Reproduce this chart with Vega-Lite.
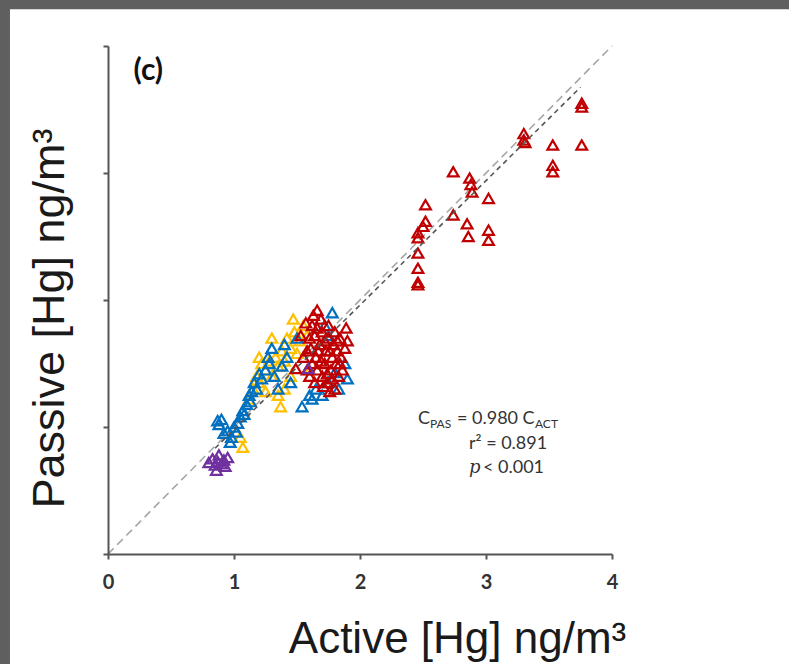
{
  "$schema": "https://vega.github.io/schema/vega-lite/v6.json",
  "width": 504,
  "height": 508,
  "autosize": {"type": "none"},
  "padding": {"left": 108, "top": 46, "right": 177, "bottom": 110},
  "background": "#5f5f5f",
  "config": {"view": {"stroke": null}},
  "datasets": {
    "points": [
      {"a": 1.07, "p": 0.84, "g": "yellow"}, {"a": 1.05, "p": 0.92, "g": "yellow"}, {"a": 1.12, "p": 1.22, "g": "yellow"},
      {"a": 1.15, "p": 1.30, "g": "yellow"}, {"a": 1.18, "p": 1.40, "g": "yellow"}, {"a": 1.20, "p": 1.35, "g": "yellow"},
      {"a": 1.22, "p": 1.50, "g": "yellow"}, {"a": 1.25, "p": 1.45, "g": "yellow"}, {"a": 1.28, "p": 1.52, "g": "yellow"},
      {"a": 1.30, "p": 1.40, "g": "yellow"}, {"a": 1.33, "p": 1.55, "g": "yellow"}, {"a": 1.35, "p": 1.48, "g": "yellow"},
      {"a": 1.38, "p": 1.60, "g": "yellow"}, {"a": 1.40, "p": 1.52, "g": "yellow"}, {"a": 1.42, "p": 1.70, "g": "yellow"},
      {"a": 1.45, "p": 1.62, "g": "yellow"}, {"a": 1.48, "p": 1.75, "g": "yellow"}, {"a": 1.50, "p": 1.58, "g": "yellow"},
      {"a": 1.52, "p": 1.68, "g": "yellow"}, {"a": 1.55, "p": 1.80, "g": "yellow"}, {"a": 1.58, "p": 1.72, "g": "yellow"},
      {"a": 1.35, "p": 1.25, "g": "yellow"}, {"a": 1.40, "p": 1.30, "g": "yellow"}, {"a": 1.25, "p": 1.28, "g": "yellow"},
      {"a": 1.37, "p": 1.16, "g": "yellow"}, {"a": 1.60, "p": 1.45, "g": "yellow"}, {"a": 1.45, "p": 1.40, "g": "yellow"},
      {"a": 1.30, "p": 1.70, "g": "yellow"}, {"a": 1.20, "p": 1.55, "g": "yellow"}, {"a": 1.47, "p": 1.85, "g": "yellow"},
      {"a": 0.87, "p": 1.05, "g": "blue"}, {"a": 0.88, "p": 1.02, "g": "blue"}, {"a": 0.90, "p": 1.06, "g": "blue"},
      {"a": 0.92, "p": 0.95, "g": "blue"}, {"a": 0.95, "p": 0.97, "g": "blue"}, {"a": 0.98, "p": 0.92, "g": "blue"},
      {"a": 1.00, "p": 1.00, "g": "blue"}, {"a": 1.03, "p": 1.03, "g": "blue"}, {"a": 1.05, "p": 1.08, "g": "blue"},
      {"a": 1.07, "p": 1.13, "g": "blue"}, {"a": 1.10, "p": 1.18, "g": "blue"}, {"a": 1.12, "p": 1.25, "g": "blue"},
      {"a": 1.14, "p": 1.28, "g": "blue"}, {"a": 1.16, "p": 1.35, "g": "blue"}, {"a": 1.18, "p": 1.30, "g": "blue"},
      {"a": 1.20, "p": 1.42, "g": "blue"}, {"a": 1.22, "p": 1.38, "g": "blue"}, {"a": 1.25, "p": 1.45, "g": "blue"},
      {"a": 1.27, "p": 1.55, "g": "blue"}, {"a": 1.28, "p": 1.50, "g": "blue"}, {"a": 1.30, "p": 1.62, "g": "blue"},
      {"a": 1.32, "p": 1.40, "g": "blue"}, {"a": 1.35, "p": 1.30, "g": "blue"}, {"a": 1.38, "p": 1.48, "g": "blue"},
      {"a": 1.42, "p": 1.55, "g": "blue"}, {"a": 1.45, "p": 1.35, "g": "blue"}, {"a": 1.54, "p": 1.16, "g": "blue"},
      {"a": 1.60, "p": 1.25, "g": "blue"}, {"a": 1.65, "p": 1.30, "g": "blue"}, {"a": 1.70, "p": 1.25, "g": "blue"},
      {"a": 1.75, "p": 1.35, "g": "blue"}, {"a": 1.80, "p": 1.43, "g": "blue"}, {"a": 1.83, "p": 1.30, "g": "blue"},
      {"a": 1.78, "p": 1.90, "g": "blue"}, {"a": 1.75, "p": 1.72, "g": "blue"}, {"a": 1.72, "p": 1.80, "g": "blue"},
      {"a": 1.40, "p": 1.65, "g": "blue"}, {"a": 1.50, "p": 1.70, "g": "blue"}, {"a": 1.13, "p": 1.20, "g": "blue"},
      {"a": 1.08, "p": 1.10, "g": "blue"}, {"a": 0.97, "p": 0.88, "g": "blue"}, {"a": 1.02, "p": 0.96, "g": "blue"},
      {"a": 1.62, "p": 1.22, "g": "blue"}, {"a": 1.90, "p": 1.38, "g": "blue"}, {"a": 1.88, "p": 1.50, "g": "blue"},
      {"a": 1.55, "p": 1.55, "g": "red"}, {"a": 1.58, "p": 1.60, "g": "red"}, {"a": 1.60, "p": 1.70, "g": "red"},
      {"a": 1.62, "p": 1.80, "g": "red"}, {"a": 1.63, "p": 1.88, "g": "red"}, {"a": 1.65, "p": 1.55, "g": "red"},
      {"a": 1.66, "p": 1.45, "g": "red"}, {"a": 1.68, "p": 1.65, "g": "red"}, {"a": 1.70, "p": 1.75, "g": "red"},
      {"a": 1.70, "p": 1.40, "g": "red"}, {"a": 1.72, "p": 1.50, "g": "red"}, {"a": 1.73, "p": 1.60, "g": "red"},
      {"a": 1.74, "p": 1.35, "g": "red"}, {"a": 1.75, "p": 1.70, "g": "red"}, {"a": 1.76, "p": 1.28, "g": "red"},
      {"a": 1.77, "p": 1.45, "g": "red"}, {"a": 1.78, "p": 1.55, "g": "red"}, {"a": 1.79, "p": 1.65, "g": "red"},
      {"a": 1.80, "p": 1.75, "g": "red"}, {"a": 1.81, "p": 1.50, "g": "red"}, {"a": 1.82, "p": 1.60, "g": "red"},
      {"a": 1.83, "p": 1.40, "g": "red"}, {"a": 1.84, "p": 1.70, "g": "red"}, {"a": 1.85, "p": 1.55, "g": "red"},
      {"a": 1.86, "p": 1.45, "g": "red"}, {"a": 1.88, "p": 1.62, "g": "red"}, {"a": 1.60, "p": 1.40, "g": "red"},
      {"a": 1.62, "p": 1.50, "g": "red"}, {"a": 1.57, "p": 1.82, "g": "red"}, {"a": 1.53, "p": 1.72, "g": "red"},
      {"a": 1.66, "p": 1.92, "g": "red"}, {"a": 1.69, "p": 1.85, "g": "red"}, {"a": 1.71, "p": 1.32, "g": "red"},
      {"a": 1.64, "p": 1.35, "g": "red"}, {"a": 1.78, "p": 1.38, "g": "red"}, {"a": 1.80, "p": 1.30, "g": "red"},
      {"a": 1.67, "p": 1.60, "g": "red"}, {"a": 1.75, "p": 1.80, "g": "red"}, {"a": 1.72, "p": 1.68, "g": "red"},
      {"a": 1.84, "p": 1.50, "g": "red"}, {"a": 1.61, "p": 1.62, "g": "red"}, {"a": 1.58, "p": 1.45, "g": "red"},
      {"a": 1.90, "p": 1.68, "g": "red"}, {"a": 1.89, "p": 1.78, "g": "red"}, {"a": 1.49, "p": 1.46, "g": "red"},
      {"a": 1.64, "p": 1.72, "g": "red"}, {"a": 1.76, "p": 1.60, "g": "red"}, {"a": 1.69, "p": 1.52, "g": "red"},
      {"a": 1.82, "p": 1.68, "g": "red"}, {"a": 1.74, "p": 1.42, "g": "red"}, {"a": 1.66, "p": 1.78, "g": "red"},
      {"a": 3.76, "p": 3.55, "g": "red"}, {"a": 3.76, "p": 3.52, "g": "red"}, {"a": 3.76, "p": 3.22, "g": "red"},
      {"a": 3.53, "p": 3.22, "g": "red"}, {"a": 3.53, "p": 3.06, "g": "red"}, {"a": 3.53, "p": 3.01, "g": "red"},
      {"a": 3.30, "p": 3.31, "g": "red"}, {"a": 3.30, "p": 3.26, "g": "red"}, {"a": 3.31, "p": 3.24, "g": "red"},
      {"a": 2.74, "p": 3.01, "g": "red"}, {"a": 2.87, "p": 2.96, "g": "red"}, {"a": 2.88, "p": 2.91, "g": "red"},
      {"a": 2.89, "p": 2.85, "g": "red"}, {"a": 3.02, "p": 2.80, "g": "red"}, {"a": 2.74, "p": 2.67, "g": "red"},
      {"a": 2.85, "p": 2.60, "g": "red"}, {"a": 2.86, "p": 2.50, "g": "red"}, {"a": 3.02, "p": 2.55, "g": "red"},
      {"a": 3.02, "p": 2.47, "g": "red"}, {"a": 2.52, "p": 2.75, "g": "red"}, {"a": 2.52, "p": 2.62, "g": "red"},
      {"a": 2.50, "p": 2.58, "g": "red"}, {"a": 2.46, "p": 2.53, "g": "red"}, {"a": 2.46, "p": 2.49, "g": "red"},
      {"a": 2.46, "p": 2.37, "g": "red"}, {"a": 2.46, "p": 2.25, "g": "red"}, {"a": 2.46, "p": 2.14, "g": "red"},
      {"a": 2.46, "p": 2.12, "g": "red"},
      {"a": 0.80, "p": 0.72, "g": "purple"}, {"a": 0.83, "p": 0.75, "g": "purple"}, {"a": 0.85, "p": 0.70, "g": "purple"},
      {"a": 0.87, "p": 0.73, "g": "purple"}, {"a": 0.88, "p": 0.78, "g": "purple"}, {"a": 0.90, "p": 0.71, "g": "purple"},
      {"a": 0.92, "p": 0.74, "g": "purple"}, {"a": 0.93, "p": 0.69, "g": "purple"}, {"a": 0.86, "p": 0.66, "g": "purple"},
      {"a": 0.95, "p": 0.76, "g": "purple"}, {"a": 1.59, "p": 1.46, "g": "purple"}
    ],
    "lines": [
      {"series": "one", "a": 0, "p": 0}, {"series": "one", "a": 4, "p": 4},
      {"series": "fit", "a": 0.85, "p": 0.833}, {"series": "fit", "a": 3.75, "p": 3.675}
    ]
  },
  "layer": [
    {
      "data": {"values": [{}]},
      "mark": {"type": "rect", "fill": "white", "clip": false},
      "encoding": {
        "x": {"datum": -0.778, "type": "quantitative", "scale": {"domain": [0, 4], "nice": false, "zero": false}},
        "x2": {"datum": 5.41},
        "y": {"datum": -0.87, "type": "quantitative", "scale": {"domain": [0, 4], "nice": false, "zero": false}},
        "y2": {"datum": 4.29}
      }
    },
    {
      "data": {"name": "lines"},
      "transform": [{"filter": "datum.series === 'one'"}],
      "mark": {"type": "line", "color": "#a6a6a6", "strokeWidth": 1.6, "strokeDash": [8, 5]},
      "encoding": {
        "x": {"field": "a", "type": "quantitative"},
        "y": {"field": "p", "type": "quantitative"}
      }
    },
    {
      "data": {"name": "points"},
      "mark": {"type": "point", "shape": "triangle-up", "filled": false, "strokeWidth": 2.2, "size": 115, "opacity": 1},
      "encoding": {
        "x": {
          "field": "a", "type": "quantitative",
          "axis": {
            "title": "Active [Hg] ng/m³", "values": [0, 1, 2, 3, 4], "format": "d", "grid": false, "zindex": 1,
            "tickSize": 5, "tickWidth": 2, "tickColor": "#555", "domainColor": "#555", "domainWidth": 2,
            "labelFont": "Lato", "labelFontWeight": "bold", "labelFontSize": 20, "labelColor": "#333", "labelPadding": 13, "labelFlush": false,
            "titleFont": "Liberation Sans", "titleFontSize": 44, "titleFontWeight": "normal", "titleColor": "#1a1a1a",
            "titleX": 349, "titleY": 98, "titleAlign": "center", "titleBaseline": "alphabetic"
          }
        },
        "y": {
          "field": "p", "type": "quantitative",
          "axis": {
            "title": "Passive [Hg] ng/m³", "values": [0, 1, 2, 3, 4], "labels": false, "grid": false, "zindex": 1,
            "tickSize": 5, "tickWidth": 2, "tickColor": "#555", "domainColor": "#555", "domainWidth": 2,
            "titleFont": "Liberation Sans", "titleFontSize": 45, "titleFontWeight": "normal", "titleColor": "#1a1a1a",
            "titleX": -45, "titleY": 272, "titleAngle": -90, "titleAlign": "center", "titleBaseline": "alphabetic"
          }
        },
        "color": {
          "field": "g", "type": "nominal", "legend": null,
          "scale": {"domain": ["yellow", "blue", "red", "purple"], "range": ["#ffc000", "#0070c0", "#c00000", "#7030a0"]}
        }
      }
    },
    {
      "data": {"name": "lines"},
      "transform": [{"filter": "datum.series === 'fit'"}],
      "mark": {"type": "line", "color": "#555555", "strokeWidth": 1.6, "strokeDash": [5, 4]},
      "encoding": {
        "x": {"field": "a", "type": "quantitative"},
        "y": {"field": "p", "type": "quantitative"}
      }
    },
    {
      "data": {"values": [{"t": "(c)"}]},
      "mark": {"type": "text", "font": "Lato", "fontWeight": "bold", "fontSize": 30, "color": "#111", "align": "center", "baseline": "middle"},
      "encoding": {
        "x": {"datum": 0.32, "type": "quantitative"},
        "y": {"datum": 3.8, "type": "quantitative"},
        "text": {"field": "t"}
      }
    },
    {
      "data": {"values": [
        {"t": "C", "part": "big"},
        {"t": "= 0.980 C", "part": "big2"},
        {"t": "r² = 0.891", "part": "l2"},
        {"t": "< 0.001", "part": "l3"}
      ]},
      "layer": [
        {
          "transform": [{"filter": "datum.part === 'big'"}],
          "mark": {"type": "text", "font": "Lato", "fontSize": 18, "color": "#333", "align": "left", "baseline": "alphabetic"},
          "encoding": {"x": {"datum": 2.46, "type": "quantitative"}, "y": {"datum": 1.024, "type": "quantitative"}, "text": {"field": "t"}}
        },
        {
          "transform": [{"filter": "datum.part === 'big2'"}],
          "mark": {"type": "text", "font": "Lato", "fontSize": 18, "color": "#333", "align": "left", "baseline": "alphabetic", "dx": 39},
          "encoding": {"x": {"datum": 2.46, "type": "quantitative"}, "y": {"datum": 1.024, "type": "quantitative"}, "text": {"field": "t"}}
        },
        {
          "transform": [{"filter": "datum.part === 'l2'"}],
          "mark": {"type": "text", "font": "Lato", "fontSize": 18, "color": "#333", "align": "left", "baseline": "alphabetic", "dx": 51},
          "encoding": {"x": {"datum": 2.46, "type": "quantitative"}, "y": {"datum": 0.827, "type": "quantitative"}, "text": {"field": "t"}}
        },
        {
          "transform": [{"filter": "datum.part === 'l3'"}],
          "mark": {"type": "text", "font": "Lato", "fontSize": 18, "color": "#333", "align": "left", "baseline": "alphabetic", "dx": 65},
          "encoding": {"x": {"datum": 2.46, "type": "quantitative"}, "y": {"datum": 0.638, "type": "quantitative"}, "text": {"field": "t"}}
        }
      ]
    },
    {
      "data": {"values": [{"t": "PAS", "k": "s1"}, {"t": "ACT", "k": "s2"}]},
      "layer": [
        {
          "transform": [{"filter": "datum.k === 's1'"}],
          "mark": {"type": "text", "font": "Lato", "fontSize": 12, "color": "#333", "align": "left", "baseline": "alphabetic", "dx": 12, "dy": 4},
          "encoding": {"x": {"datum": 2.46, "type": "quantitative"}, "y": {"datum": 1.024, "type": "quantitative"}, "text": {"field": "t"}}
        },
        {
          "transform": [{"filter": "datum.k === 's2'"}],
          "mark": {"type": "text", "font": "Lato", "fontSize": 12, "color": "#333", "align": "left", "baseline": "alphabetic", "dx": 117, "dy": 4},
          "encoding": {"x": {"datum": 2.46, "type": "quantitative"}, "y": {"datum": 1.024, "type": "quantitative"}, "text": {"field": "t"}}
        }
      ]
    },
    {
      "data": {"values": [{"t": "p"}]},
      "mark": {"type": "text", "font": "DejaVu Serif", "fontStyle": "italic", "fontSize": 18, "color": "#333", "align": "left", "baseline": "alphabetic", "dx": 51},
      "encoding": {"x": {"datum": 2.46, "type": "quantitative"}, "y": {"datum": 0.638, "type": "quantitative"}, "text": {"field": "t"}}
    }
  ]
}
